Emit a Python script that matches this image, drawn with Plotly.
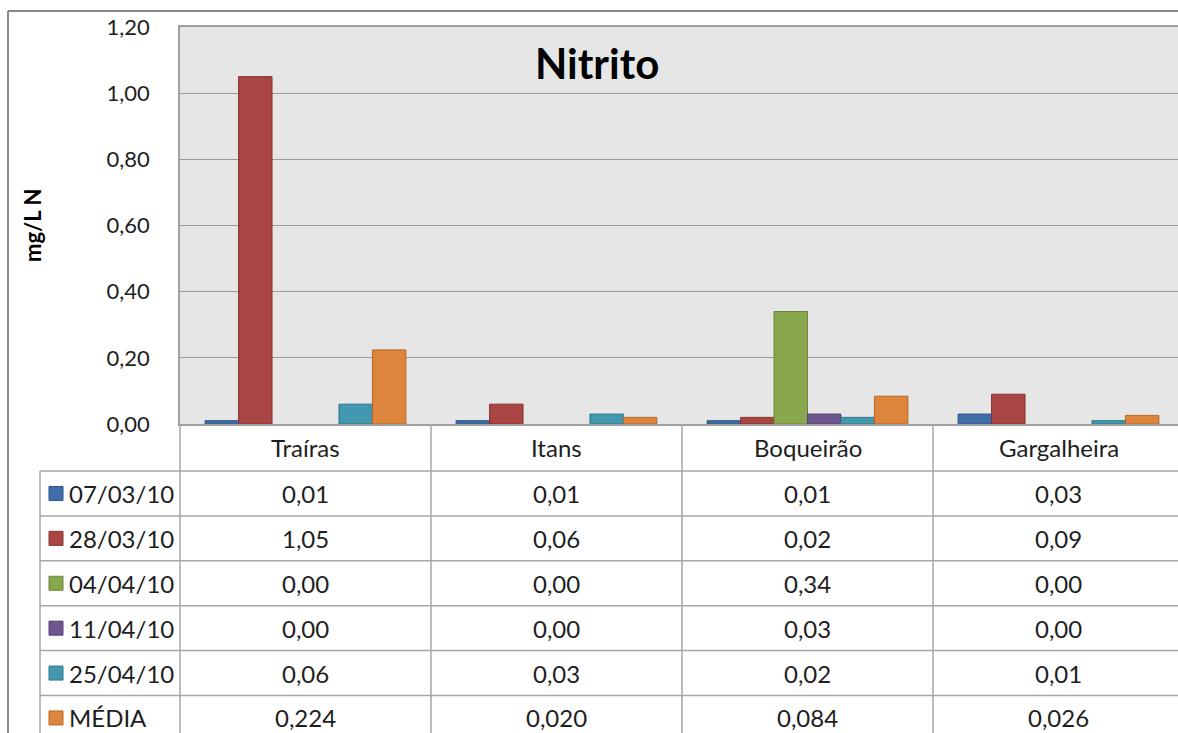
import plotly.graph_objects as go

# Data
categories = ["Traíras", "Itans", "Boqueirão", "Gargalheira"]
series_names = ["07/03/10", "28/03/10", "04/04/10", "11/04/10", "25/04/10", "MÉDIA"]
values_0703 = [0.01, 0.01, 0.01, 0.03]
values_2803 = [1.05, 0.06, 0.02, 0.09]
values_0404 = [0.00, 0.00, 0.34, 0.00]
values_1104 = [0.00, 0.00, 0.03, 0.00]
values_2504 = [0.06, 0.03, 0.02, 0.01]
values_media = [0.224, 0.020, 0.084, 0.026]
series_values = [values_0703, values_2803, values_0404, values_1104, values_2504, values_media]
series_decimals = [2, 2, 2, 2, 2, 3]
y_ticks = [0.0, 0.2, 0.4, 0.6, 0.8, 1.0, 1.2]

fills = ["#3F6EA8", "#A94543", "#89A84E", "#6F5691", "#4198AF", "#DD853D"]
edges = ["#2E5285", "#873432", "#6A843A", "#54416F", "#2F7589", "#B5672A"]

W, H = 1178, 733
L, R_EDGE, T, B = 180, 1178, 27, 424  # plot area in pixels


def px(x):
    return (x - L) / (R_EDGE - L)


def py(y):
    return (B - y) / (B - T)


fig = go.Figure()
for name, vals, fc, ec in zip(series_names, series_values, fills, edges):
    # no outline on empty bars so zero values leave no mark
    widths = [1 if v > 0 else 0 for v in vals]
    fig.add_trace(go.Bar(
        x=list(range(len(categories))), y=vals, name=name,
        marker=dict(color=fc, line=dict(color=ec, width=widths)),
        hoverinfo="skip",
    ))

font_family = "Lato, 'Open Sans', sans-serif"
text_color = "#1e1e1e"
table_line = "#a6a6a6"
table_size = 24
shapes = []
annotations = []


def label(x, y, text, xref="paper", size=table_size, xanchor="center", **kw):
    annotations.append(dict(x=x, y=y, xref=xref, yref="paper", text=text, showarrow=False,
                            xanchor=xanchor, yanchor="middle",
                            font=dict(family=font_family, size=size, color=kw.pop("color", text_color)),
                            **kw))


# Outer chart frame (left and top edges)
shapes.append(dict(type="line", xref="paper", yref="paper", x0=px(8), x1=px(1178),
                   y0=py(11), y1=py(11), line=dict(color="#8a8a8a", width=2)))
shapes.append(dict(type="line", xref="paper", yref="paper", x0=px(8), x1=px(8),
                   y0=py(11), y1=py(740), line=dict(color="#8a8a8a", width=2)))

# Data table geometry
row_h = 44.9
header_top, header_bottom = B, 471
n_rows = len(series_names)
row_tops = [header_bottom + row_h * i for i in range(n_rows + 1)]

# Horizontal table lines
for yt in row_tops:
    shapes.append(dict(type="line", xref="paper", yref="paper", x0=px(40), x1=1.0,
                       y0=py(yt), y1=py(yt), line=dict(color=table_line, width=1.5)))
# Vertical table lines
shapes.append(dict(type="line", xref="paper", yref="paper", x0=px(40), x1=px(40),
                   y0=py(header_bottom), y1=py(740), line=dict(color=table_line, width=1.5)))
shapes.append(dict(type="line", xref="paper", yref="paper", x0=0, x1=0,
                   y0=py(B), y1=py(740), line=dict(color=table_line, width=1.5)))
for i in range(len(categories)):
    shapes.append(dict(type="line", xref="x", yref="paper", x0=i + 0.5, x1=i + 0.5,
                       y0=py(B), y1=py(740), line=dict(color=table_line, width=1.5)))

# Category header labels
for i, cat in enumerate(categories):
    label(i, py((header_top + header_bottom) / 2), cat, xref="x")

# Rows: legend key, series label and values
for r, (name, vals, fc, ec, dec) in enumerate(zip(series_names, series_values, fills, edges, series_decimals)):
    yc = row_tops[r] + row_h / 2
    shapes.append(dict(type="rect", xref="paper", yref="paper",
                       x0=px(49), x1=px(63), y0=py(yc - 7), y1=py(yc + 7),
                       fillcolor=fc, line=dict(color=ec, width=1)))
    label(px(67), py(yc), name, xanchor="left")
    for i, v in enumerate(vals):
        label(i, py(yc), f"{v:.{dec}f}".replace(".", ","), xref="x")

# Title and axis title
label(px(597), py(63), "<b>Nitrito</b>", size=42, color="#000000")
label(px(33), py(226), "<b>mg/L N</b>", size=22, color="#000000", textangle=-90)

fig.update_layout(
    width=W, height=H,
    margin=dict(l=L, r=W - R_EDGE, t=T, b=H - B, pad=0),
    paper_bgcolor="#ffffff", plot_bgcolor="#e6e6e6",
    barmode="group", bargap=0.2, bargroupgap=0,
    showlegend=False,
    separators=",.",
    shapes=shapes, annotations=annotations,
    font=dict(family=font_family, color=text_color),
)
fig.update_xaxes(
    range=[-0.5, -0.5 + (R_EDGE - L) / 251.0], showticklabels=False, showgrid=False,
    zeroline=False, showline=True, mirror=True, linecolor="#a0a0a0", linewidth=1.5,
    fixedrange=True,
)
fig.update_yaxes(
    range=[0, 1.2], tickvals=y_ticks, tickformat=".2f",
    showgrid=True, gridcolor="#9a9a9a", gridwidth=1.2, zeroline=False,
    showline=True, linecolor="#a0a0a0", linewidth=1.5,
    ticks="", ticklabelstandoff=24,
    tickfont=dict(family=font_family, size=22, color=text_color),
    fixedrange=True,
)

fig.write_html("out.html", config={"displayModeBar": False})
